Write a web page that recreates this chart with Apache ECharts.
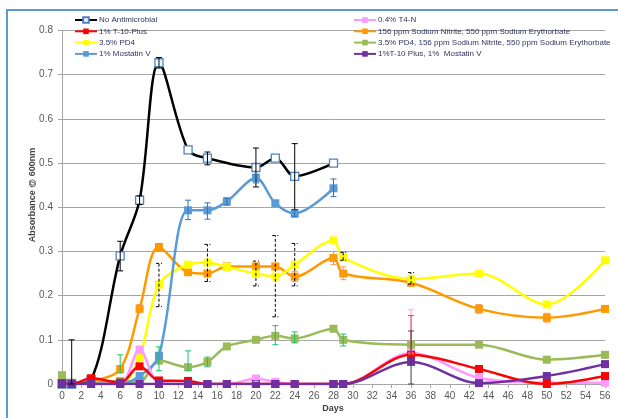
<!DOCTYPE html>
<html>
<head>
<meta charset="utf-8">
<script src="https://cdn.jsdelivr.net/npm/echarts@6/dist/echarts.min.js"></script>
<style>
  html, body { margin: 0; padding: 0; background: #ffffff; overflow: hidden; }
  #chart { width: 618px; height: 418px; }
</style>
</head>
<body>
<div id="chart"></div>
<script>
// Sampling days shared by all treatments (null = not measured on that day)
const days = [0, 1, 3, 6, 8, 10, 13, 15, 17, 20, 22, 24, 28, 29, 36, 43, 50, 56];

// Absorbance @ 600nm per treatment
const noAntimicrobial = [0, 0, 0.01, 0.29, 0.416, 0.727, 0.53, 0.511, null, 0.49, 0.511, 0.47, 0.5, null, null, null, null, null];
const t10Plus        = [0, 0, 0.013, 0.003, 0.04, 0.008, 0.007, 0, 0, 0, 0, 0, 0, 0, 0.066, 0.034, 0, 0.018];
const pd4            = [0, 0, 0, 0, 0.061, 0.225, 0.27, 0.275, 0.265, 0.25, 0.243, 0.27, 0.325, 0.286, 0.238, 0.25, 0.18, 0.28];
const mostatinV      = [0, 0, 0, 0, 0.018, 0.064, 0.393, 0.393, 0.413, 0.466, 0.409, 0.386, 0.443, null, null, null, null, null];
const t4n            = [0, 0, 0, 0, 0.078, 0.003, 0, 0, 0, 0.012, 0.005, 0, 0, 0, 0.07, 0.014, 0.003, 0.003];
const nitriteErythorbate = [0, 0, 0.005, 0.034, 0.17, 0.31, 0.253, 0.25, 0.266, 0.266, 0.266, 0.243, 0.285, 0.25, 0.229, 0.17, 0.15, 0.17];
const pd4Nitrite     = [0.02, 0.003, 0.003, 0.007, 0.005, 0.053, 0.038, 0.05, 0.085, 0.1, 0.109, 0.103, 0.125, 0.1, 0.089, 0.089, 0.055, 0.066];
const t10Mostatin    = [0.002, 0, 0, 0, 0, 0, 0, 0, 0, 0, 0, 0, 0, 0, 0.05, 0.002, 0.018, 0.045];

// Error bars: [day, low, high]
const errNoAntimicrobial = [[1, 0, 0.1], [6, 0.256, 0.323], [8, 0.406, 0.426], [10, 0.715, 0.739], [15, 0.496, 0.525], [20, 0.446, 0.534], [24, 0.395, 0.544]];
const errMostatinV = [[13, 0.372, 0.416], [15, 0.373, 0.41], [17, 0.405, 0.421], [20, 0.455, 0.475], [24, 0.378, 0.394], [28, 0.424, 0.464]];
const errPd4 = [[10, 0.175, 0.273], [15, 0.232, 0.316], [20, 0.222, 0.278], [22, 0.152, 0.336], [24, 0.222, 0.318], [29, 0.28, 0.298], [36, 0.226, 0.252]];
const errNitriteErythorbate = [[8, 0.163, 0.18], [24, 0.232, 0.255], [28, 0.27, 0.3], [29, 0.236, 0.265], [43, 0.16, 0.18], [50, 0.14, 0.16]];
const errPd4Nitrite = [[6, 0.025, 0.066], [10, 0.03, 0.084], [13, 0.03, 0.075], [15, 0.039, 0.061], [22, 0.089, 0.132], [24, 0.093, 0.118], [29, 0.086, 0.113]];
const errT10Plus = [[36, 0.066, 0.155]];
const errT4n = [[20, 0.006, 0.02], [36, 0.07, 0.168]];
const errT10Mostatin = [[36, 0, 0.12]];

const legendLeft = ['No Antimicrobial', '1% T-10-Plus', '3.5% PD4', '1% Mostatin V'];
const legendRight = ['0.4% T4-N', '156 ppm Sodium Nitrite, 550 ppm Sodium Erythorbate',
  '3.5% PD4, 156 ppm Sodium Nitrite, 550 ppm Sodium Erythorbate', '1%T-10 Plus, 1%  Mostatin V'];

const FONT = '"Liberation Sans", Arial, sans-serif';

function points(values) {
  return days.map((d, i) => [d, values[i]]).filter(p => p[1] !== null);
}

function lineSeries(name, values, color, z, markerFill, markerBorder) {
  return {
    type: 'line',
    name: name,
    data: points(values),
    smooth: 0.33,
    z: z,
    symbol: 'rect',
    symbolSize: 8,
    lineStyle: { color: color, width: 2.5 },
    itemStyle: {
      color: markerFill || color,
      borderColor: markerBorder || color,
      borderWidth: markerBorder ? 1.3 : 0
    },
    emphasis: { disabled: true },
    animation: false
  };
}

function errorSeries(data, color, dashed, z) {
  return {
    type: 'custom',
    data: data,
    z: z,
    silent: true,
    animation: false,
    encode: { x: 0, y: [1, 2] },
    renderItem: function (params, api) {
      const x = api.value(0);
      const lo = api.coord([x, api.value(1)]);
      const hi = api.coord([x, api.value(2)]);
      const w = 3;
      const style = { stroke: color, lineWidth: 1, lineDash: dashed ? [3, 2] : null, fill: null };
      return {
        type: 'group',
        children: [
          { type: 'line', shape: { x1: lo[0], y1: lo[1], x2: hi[0], y2: hi[1] }, style: style },
          { type: 'line', shape: { x1: lo[0] - w, y1: lo[1], x2: lo[0] + w, y2: lo[1] }, style: style },
          { type: 'line', shape: { x1: hi[0] - w, y1: hi[1], x2: hi[0] + w, y2: hi[1] }, style: style }
        ]
      };
    }
  };
}

const legendCommon = {
  orient: 'vertical',
  itemWidth: 22,
  itemHeight: 7,
  itemGap: 1.3,
  padding: 0,
  selectedMode: false,
  textStyle: { fontFamily: FONT, fontSize: 8, color: '#2e3560', padding: [0, 0, 0, -3], lineHeight: 10 }
};

const frameStyle = { stroke: '#5b9bd5', lineWidth: 2 };

const chart = echarts.init(document.getElementById('chart'), null, { renderer: 'canvas' });

chart.setOption({
  backgroundColor: '#ffffff',
  animation: false,
  grid: { left: 62, right: 13, top: 30.5, bottom: 34, containLabel: false },
  legend: [
    Object.assign({ data: legendLeft, left: 74, top: 15 }, legendCommon),
    Object.assign({ data: legendRight, left: 353, top: 15 }, legendCommon)
  ],
  xAxis: {
    type: 'value',
    min: 0, max: 56, interval: 2,
    axisLine: { show: true, onZero: false, lineStyle: { color: '#a6a6a6', width: 1 } },
    axisTick: { show: true, inside: false, length: 4, lineStyle: { color: '#a6a6a6' } },
    splitLine: { show: false },
    axisLabel: { fontFamily: FONT, fontSize: 10, color: '#595959', margin: 7 }
  },
  yAxis: {
    type: 'value',
    min: 0, max: 0.8, interval: 0.1,
    axisLine: { show: true, lineStyle: { color: '#a6a6a6', width: 1 } },
    axisTick: { show: true, inside: false, length: 4, lineStyle: { color: '#a6a6a6' } },
    splitLine: { show: true, lineStyle: { color: '#a6a6a6', width: 1 } },
    axisLabel: { fontFamily: FONT, fontSize: 10, color: '#595959', margin: 9 }
  },
  graphic: [
    // chart frame: left and top edges
    { type: 'line', silent: true, z: 100, shape: { x1: 7, y1: 9, x2: 7, y2: 418 }, style: frameStyle },
    { type: 'line', silent: true, z: 100, shape: { x1: 6, y1: 10, x2: 618, y2: 10 }, style: frameStyle },
    { type: 'text', silent: true, x: 33, y: 195, rotation: Math.PI / 2,
      style: { text: 'Absorbance @ 600nm', font: 'bold 9px ' + FONT, fill: '#404040', align: 'center', verticalAlign: 'middle' } },
    { type: 'text', silent: true, x: 333, y: 409,
      style: { text: 'Days', font: 'bold 9px ' + FONT, fill: '#404040', align: 'center', verticalAlign: 'middle' } }
  ],
  series: [
    lineSeries(legendRight[1], nitriteErythorbate, '#ff9900', 2),
    lineSeries(legendLeft[2], pd4, '#ffff00', 3),
    lineSeries(legendRight[2], pd4Nitrite, '#9bbb59', 4),
    lineSeries(legendLeft[0], noAntimicrobial, '#000000', 5, '#ffffff', '#4f81bd'),
    lineSeries(legendLeft[3], mostatinV, '#5b9bd5', 6),
    lineSeries(legendRight[0], t4n, '#ff99ff', 7),
    lineSeries(legendLeft[1], t10Plus, '#ff0000', 8),
    lineSeries(legendRight[3], t10Mostatin, '#7030a0', 9),
    errorSeries(errNitriteErythorbate, '#f79646', false, 10),
    errorSeries(errPd4, '#000000', true, 10),
    errorSeries(errPd4Nitrite, '#1fbf6f', false, 10),
    errorSeries(errNoAntimicrobial, '#000000', false, 10),
    errorSeries(errMostatinV, '#2e75b6', false, 10),
    errorSeries(errT4n, '#ff99ff', false, 10),
    errorSeries(errT10Plus, '#ff4040', false, 10),
    errorSeries(errT10Mostatin, '#404040', false, 10)
  ]
});
</script>
</body>
</html>
